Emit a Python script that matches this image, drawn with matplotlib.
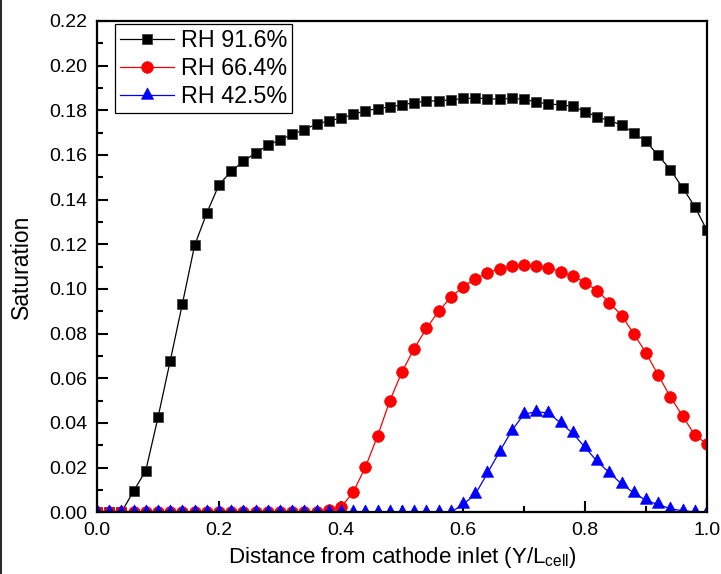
import numpy as np
import matplotlib
matplotlib.use("Agg")
from matplotlib import pyplot as plt
from matplotlib.lines import Line2D
from matplotlib.path import Path
from matplotlib.ticker import MultipleLocator

plt.rcParams['font.family'] = ['Liberation Sans', 'DejaVu Sans']

# position along the cell (Y/L_cell)
pos = [0.00, 0.02, 0.04, 0.06, 0.08, 0.10, 0.12, 0.14, 0.16, 0.18,
       0.20, 0.22, 0.24, 0.26, 0.28, 0.30, 0.32, 0.34, 0.36, 0.38,
       0.40, 0.42, 0.44, 0.46, 0.48, 0.50, 0.52, 0.54, 0.56, 0.58,
       0.60, 0.62, 0.64, 0.66, 0.68, 0.70, 0.72, 0.74, 0.76, 0.78,
       0.80, 0.82, 0.84, 0.86, 0.88, 0.90, 0.92, 0.94, 0.96, 0.98, 1.00]

# saturation, RH 91.6%
sat_916 = [0.0, 0.0, 0.0, 0.0095, 0.0187, 0.0425, 0.0678, 0.0934, 0.1195, 0.1340,
           0.1467, 0.1527, 0.1572, 0.1609, 0.1643, 0.1668, 0.1692, 0.1714, 0.1739, 0.1753,
           0.1765, 0.1782, 0.1798, 0.1808, 0.1815, 0.1825, 0.1834, 0.1841, 0.1843, 0.1847,
           0.1853, 0.1855, 0.1852, 0.1850, 0.1853, 0.1850, 0.1837, 0.1828, 0.1825, 0.1818,
           0.1794, 0.1771, 0.1753, 0.1735, 0.1698, 0.1661, 0.1598, 0.1534, 0.1453, 0.1369,
           0.1262]

# saturation, RH 66.4%
sat_664 = [0.0, 0.0, 0.0, 0.0, 0.0, 0.0, 0.0, 0.0, 0.0, 0.0,
           0.0, 0.0, 0.0, 0.0, 0.0, 0.0, 0.0, 0.0, 0.0, 0.001,
           0.0023, 0.0090, 0.0202, 0.0342, 0.0499, 0.0629, 0.0733, 0.0824, 0.0900, 0.0963,
           0.1010, 0.1046, 0.1071, 0.1091, 0.1101, 0.1106, 0.1101, 0.1095, 0.1077, 0.1060,
           0.1028, 0.0993, 0.0939, 0.0881, 0.0799, 0.0714, 0.0614, 0.0517, 0.0431, 0.0346,
           0.0306]

# saturation, RH 42.5%
sat_425 = [0.0, 0.0, 0.0, 0.0, 0.0, 0.0, 0.0, 0.0, 0.0, 0.0,
           0.0, 0.0, 0.0, 0.0, 0.0, 0.0, 0.0, 0.0, 0.0, 0.0,
           0.0, 0.0, 0.0, 0.0, 0.0, 0.0, 0.0, 0.0, 0.0, 0.0,
           0.0035, 0.0080, 0.0175, 0.0272, 0.0366, 0.0440, 0.0450, 0.0445, 0.0400, 0.0354,
           0.0291, 0.0228, 0.0177, 0.0127, 0.0087, 0.0053, 0.0035, 0.0016, 0.0007, 0.0002,
           0.0]

labels = ['RH 91.6%', 'RH 66.4%', 'RH 42.5%']

# triangle centred on its centroid (like Origin), not on its bounding box
tri = Path([(0, 0.62), (-0.5, -0.31), (0.5, -0.31), (0, 0.62)],
           [Path.MOVETO, Path.LINETO, Path.LINETO, Path.CLOSEPOLY])

fig = plt.figure(figsize=(7.21, 5.74), dpi=100)
ax = fig.add_axes([97 / 721, 1 - 512.3 / 574, 610 / 721, 491.3 / 574])

ax.plot(pos, sat_916, color='black', lw=0.9, marker='s', ms=7.3,
        mec='#333333', mew=0.5, label=labels[0])
ax.plot(pos, sat_664, color='red', lw=0.9, marker='o', ms=8.4,
        mec='red', mew=0.5, label=labels[1])
ax.plot(pos, sat_425, color='blue', lw=0.9, marker=tri, ms=10.8,
        mec='blue', mew=0.5, label=labels[2])

ax.set_xlim(0, 1.0)
ax.set_ylim(0, 0.22)
ax.xaxis.set_major_locator(MultipleLocator(0.2))
ax.xaxis.set_minor_locator(MultipleLocator(0.1))
ax.yaxis.set_major_locator(MultipleLocator(0.02))
ax.yaxis.set_minor_locator(MultipleLocator(0.01))
ax.xaxis.set_major_formatter(lambda v, p: f'{v:.1f}')
ax.yaxis.set_major_formatter(lambda v, p: f'{v:.2f}')

ax.tick_params(which='both', direction='in', top=False, right=False,
               labelsize=14, width=1.5)
ax.tick_params(which='major', length=8)
ax.tick_params(axis='x', which='major', pad=7)
ax.tick_params(axis='y', which='major', pad=7)
ax.tick_params(which='minor', length=4.5)
for sp in ax.spines.values():
    sp.set_linewidth(1.6)

ax.set_xlabel('Distance from cathode inlet (Y/L$_{\\mathregular{cell}}$)',
              fontsize=16, labelpad=4)
ax.set_ylabel('Saturation', fontsize=16.5, labelpad=12)

leg = ax.legend(loc='upper left', bbox_to_anchor=(0.03, 0.993), fontsize=16.8,
                frameon=True, fancybox=False, framealpha=1, edgecolor='black',
                handlelength=2.3, handletextpad=0.3, labelspacing=0.22,
                borderpad=0.2, borderaxespad=0)
leg.get_frame().set_linewidth(0.9)

# thin border line on the left edge of the picture
fig.add_artist(Line2D([0.002, 0.002], [0, 1], color='black', lw=1.2,
                      transform=fig.transFigure))

fig.savefig('out.png', dpi=100)
